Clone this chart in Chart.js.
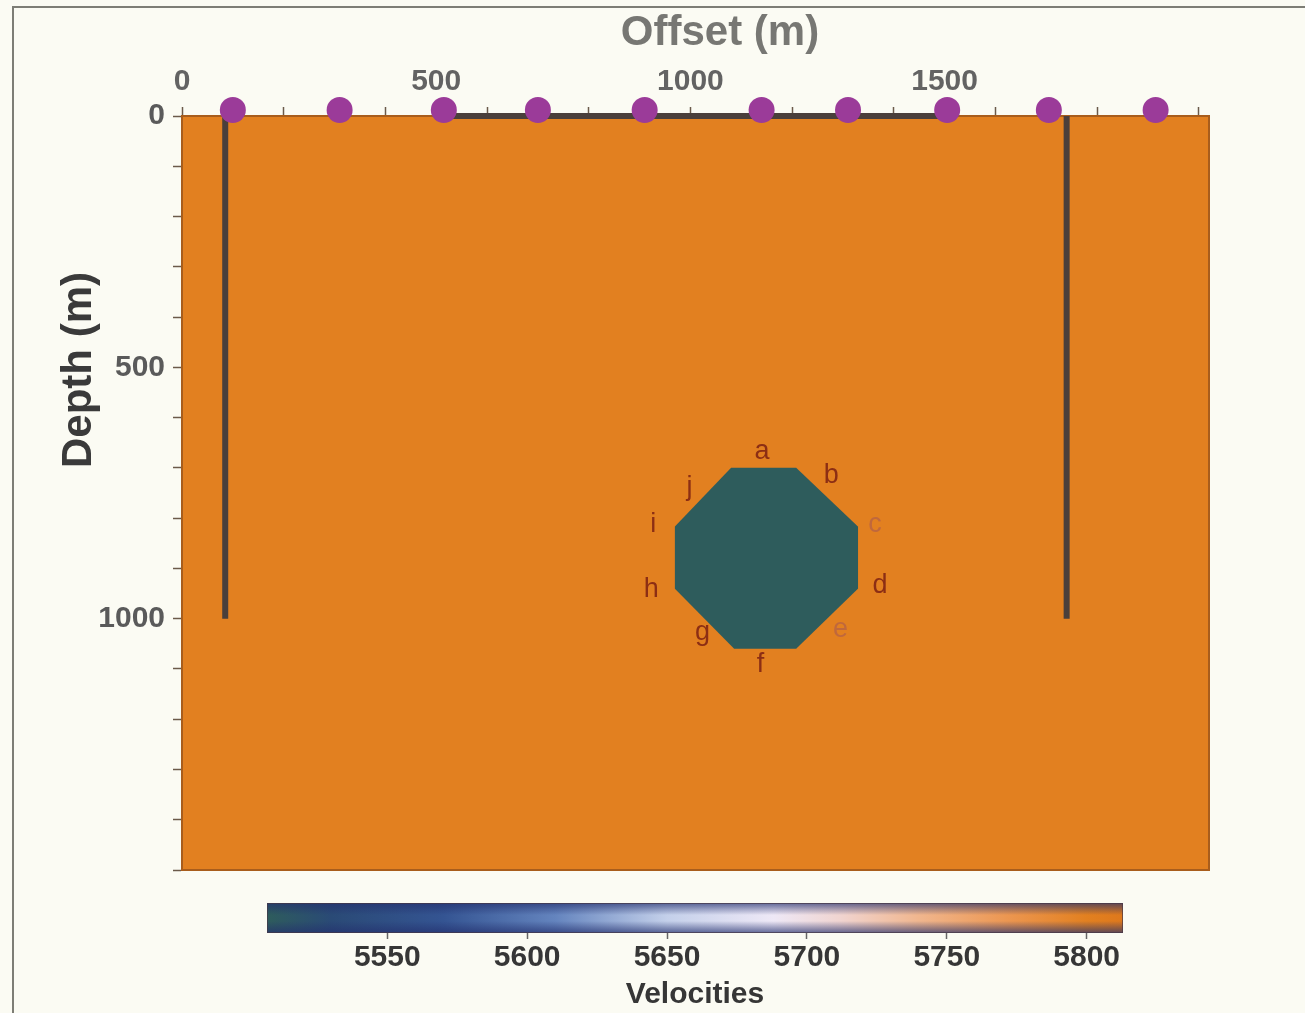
<!DOCTYPE html>
<html>
<head>
<meta charset="utf-8">
<script src="https://cdn.jsdelivr.net/npm/chart.js@4.4.1/dist/chart.umd.min.js"></script>
<style>
  html, body { margin: 0; padding: 0; background: #fbfbf3; }
  body { width: 1305px; height: 1013px; position: relative; overflow: hidden; }
  #frame { position: absolute; left: 12px; top: 6px; width: 1400px; height: 1100px;
           border-left: 2px solid #7d7d75; border-top: 2px solid #7d7d75; }
  #model { position: absolute; left: 0; top: 0; }
  #cbar { position: absolute; left: 0; top: 890px; }
</style>
</head>
<body>
<div id="frame"></div>
<canvas id="model" width="1305" height="890"></canvas>
<canvas id="cbar" width="1305" height="123"></canvas>
<script>
// ---- model extent (m) ----
const offsetRange = [0, 2020];
const depthRange = [0, 1500];
const offsetTicks = [0, 200, 400, 500, 600, 800, 1000, 1200, 1400, 1500, 1600, 1800, 2000];
const offsetLabels = [0, 500, 1000, 1500];
const depthLabels = [0, 500, 1000];

// ---- velocities (m/s) ----
const backgroundVelocity = 5800;
const anomalyVelocity = 5507;
const velocityRange = [5507, 5813];
const velocityTicks = [5550, 5600, 5650, 5700, 5750, 5800];

// ---- octagonal anomaly: upper and lower outline (offset, depth) ----
const anomalyTopX = [969, 1080, 1208, 1330];
const anomalyTopZ = [817, 700, 700, 817];
const anomalyBottomX = [969, 1086, 1208, 1330];
const anomalyBottomZ = [940, 1060, 1060, 940];

// ---- corner labels around the anomaly ----
const cornerNames = ['a', 'b', 'c', 'd', 'e', 'f', 'g', 'h', 'i', 'j'];
const cornerX = [1141, 1277, 1363, 1373, 1295, 1138, 1024, 923, 927, 998];
const cornerZ = [668, 716, 813, 934, 1022, 1092, 1028, 943, 813, 740];

// ---- sources at the surface ----
const sourceX = [100, 310, 515, 700, 910, 1140, 1310, 1505, 1705, 1915];
const sourceZ = [-12, -12, -12, -12, -12, -12, -12, -12, -12, -12];

// ---- wells and surface line ----
const wellX = [85, 1740];
const wellTop = 0;
const wellBottom = 1000;
const surfaceLineX = [515, 1510];
const surfaceLineZ = 0;

// colour scale (velocity -> colour)
const cmapStops = [
  [5507, [46, 92, 92]],
  [5530, [42, 74, 118]],
  [5570, [52, 84, 146]],
  [5610, [100, 132, 190]],
  [5650, [196, 208, 234]],
  [5688, [238, 232, 246]],
  [5712, [240, 212, 208]],
  [5740, [240, 182, 142]],
  [5772, [236, 150, 80]],
  [5800, [226, 128, 32]],
  [5813, [222, 120, 28]]
];
function cmap(v) {
  if (v <= cmapStops[0][0]) return rgb(cmapStops[0][1]);
  for (let i = 1; i < cmapStops.length; i++) {
    const [v1, c1] = cmapStops[i];
    const [v0, c0] = cmapStops[i - 1];
    if (v <= v1) {
      const t = (v - v0) / (v1 - v0);
      return rgb(c0.map((c, k) => c + (c1[k] - c) * t));
    }
  }
  return rgb(cmapStops[cmapStops.length - 1][1]);
}
function rgb(c) { return 'rgb(' + c.map(Math.round).join(',') + ')'; }

const FONT = "'Liberation Sans', Arial, Helvetica, sans-serif";
const pts = (xs, zs) => xs.map((x, i) => ({ x: x, y: zs[i] }));

const lineBase = { type: 'line', pointRadius: 0, fill: false, clip: false, tension: 0 };

const datasets = [
  { ...lineBase, label: 'sources', showLine: false, data: pts(sourceX, sourceZ),
    pointRadius: 13, pointBackgroundColor: '#9b3b99', pointBorderWidth: 0, order: 1 },
  ...wellX.map(x => ({ ...lineBase, label: 'well', data: [{ x: x, y: wellTop }, { x: x, y: wellBottom }],
    borderColor: '#4a3f3b', borderWidth: 6, borderCapStyle: 'butt', order: 3 })),
  { ...lineBase, label: 'surface', data: surfaceLineX.map(x => ({ x: x, y: surfaceLineZ })),
    borderColor: '#4a3f3b', borderWidth: 6, order: 3 },
  { ...lineBase, label: 'anomaly', data: pts(anomalyTopX, anomalyTopZ), fill: '+1',
    backgroundColor: cmap(anomalyVelocity), borderWidth: 0, borderColor: 'transparent', order: 6 },
  { ...lineBase, label: 'anomaly base', data: pts(anomalyBottomX, anomalyBottomZ),
    borderWidth: 0, borderColor: 'transparent', order: 7 },
  { ...lineBase, label: 'frame',
    data: [{ x: offsetRange[0], y: depthRange[0] }, { x: offsetRange[1], y: depthRange[0] },
           { x: offsetRange[1], y: depthRange[1] }, { x: offsetRange[0], y: depthRange[1] },
           { x: offsetRange[0], y: depthRange[0] }],
    borderColor: '#a85d1c', borderWidth: 2, order: 9 },
  { ...lineBase, label: 'background', clip: 0,
    data: [{ x: offsetRange[0], y: depthRange[1] }, { x: offsetRange[1], y: depthRange[1] }],
    fill: { value: depthRange[0] }, backgroundColor: cmap(backgroundVelocity),
    borderWidth: 0, borderColor: 'transparent', order: 10 }
];

// corner letters and axis titles
const annotations = {
  id: 'annotations',
  afterDatasetsDraw(chart) {
    const { ctx, scales: { x, y } } = chart;
    ctx.save();
    ctx.font = '27px ' + FONT;
    ctx.textAlign = 'center';
    ctx.textBaseline = 'middle';
    cornerNames.forEach((n, i) => {
      ctx.fillStyle = (n === 'c' || n === 'e') ? '#c0683c' : '#8c2e14';
      ctx.fillText(n, x.getPixelForValue(cornerX[i]), y.getPixelForValue(cornerZ[i]));
    });
    ctx.restore();
  },
  afterDraw(chart) {
    const { ctx } = chart;
    ctx.save();
    ctx.textAlign = 'center';
    ctx.textBaseline = 'middle';
    ctx.font = 'bold 42px ' + FONT;
    ctx.fillStyle = '#777773';
    ctx.fillText('Offset (m)', 720, 33);
    ctx.translate(79, 370);
    ctx.rotate(-Math.PI / 2);
    ctx.fillStyle = '#3a3a3a';
    ctx.fillText('Depth (m)', 0, 0);
    ctx.restore();
  }
};

new Chart(document.getElementById('model'), {
  type: 'line',
  data: { datasets: datasets },
  options: {
    responsive: false,
    animation: false,
    events: [],
    layout: { padding: { left: 50, top: 0, right: 96, bottom: 20 } },
    plugins: { legend: { display: false }, tooltip: { enabled: false } },
    scales: {
      x: {
        type: 'linear', position: 'top', min: offsetRange[0], max: offsetRange[1],
        afterBuildTicks: s => { s.ticks = offsetTicks.map(v => ({ value: v })); },
        afterFit: s => { s.height = 116; s.paddingLeft = 0; s.paddingRight = 0; },
        ticks: {
          autoSkip: false, maxRotation: 0, padding: 7, color: '#636363',
          font: { family: FONT, size: 30, weight: 'bold' },
          callback: v => offsetLabels.includes(v) ? String(v) : ''
        },
        grid: { drawOnChartArea: false, tickLength: 9, tickColor: '#6b5a4a', tickWidth: 1.5 },
        border: { color: '#a85d1c', width: 2 }
      },
      y: {
        type: 'linear', reverse: true, min: depthRange[0], max: depthRange[1],
        afterFit: s => { s.width = 132; s.paddingTop = 0; s.paddingBottom = 0; },
        ticks: {
          stepSize: 100, autoSkip: false, padding: 8, color: '#5a5a5a',
          font: { family: FONT, size: 30, weight: 'bold' },
          callback: v => depthLabels.includes(v) ? String(v) : ''
        },
        grid: { drawOnChartArea: false, tickLength: 9, tickColor: '#6b5a4a', tickWidth: 1.5 },
        border: { color: '#a85d1c', width: 2 }
      }
    }
  },
  plugins: [annotations]
});

// colour bar
const colorBar = {
  id: 'colorBar',
  beforeDatasetsDraw(chart) {
    const { ctx, chartArea: a, scales: { x } } = chart;
    const g = ctx.createLinearGradient(a.left, 0, a.right, 0);
    const span = a.right - a.left;
    cmapStops.forEach(([v]) => {
      const p = (x.getPixelForValue(v) - a.left) / span;
      g.addColorStop(Math.min(1, Math.max(0, p)), cmap(v));
    });
    ctx.save();
    ctx.fillStyle = g;
    ctx.fillRect(a.left, a.top, span, a.bottom - a.top);
    const shade = ctx.createLinearGradient(0, a.top, 0, a.bottom);
    shade.addColorStop(0, 'rgba(36,48,110,0.7)');
    shade.addColorStop(0.4, 'rgba(36,48,110,0)');
    shade.addColorStop(0.6, 'rgba(36,48,110,0)');
    shade.addColorStop(1, 'rgba(36,48,110,0.7)');
    ctx.fillStyle = shade;
    ctx.fillRect(a.left, a.top, span, a.bottom - a.top);
    ctx.strokeStyle = 'rgba(70,55,70,0.7)';
    ctx.lineWidth = 1;
    ctx.strokeRect(a.left + 0.5, a.top + 0.5, span - 1, a.bottom - a.top - 1);
    ctx.restore();
  }
};

new Chart(document.getElementById('cbar'), {
  type: 'scatter',
  data: { datasets: [] },
  options: {
    responsive: false,
    animation: false,
    events: [],
    layout: { padding: { left: 267, right: 182, top: 13, bottom: 0 } },
    plugins: { legend: { display: false }, tooltip: { enabled: false } },
    scales: {
      x: {
        type: 'linear', position: 'bottom', min: velocityRange[0], max: velocityRange[1],
        afterBuildTicks: s => { s.ticks = velocityTicks.map(v => ({ value: v })); },
        afterFit: s => { s.height = 80; },
        ticks: {
          autoSkip: false, maxRotation: 0, padding: 1, color: '#363636',
          font: { family: FONT, size: 30, weight: 'bold' },
          callback: v => String(v)
        },
        grid: { drawOnChartArea: false, tickLength: 6, tickColor: '#666', tickWidth: 1.5 },
        border: { display: false },
        title: {
          display: true, text: 'Velocities', color: '#363636',
          font: { family: FONT, size: 30, weight: 'bold' }, padding: { top: 0, bottom: 0 }
        }
      },
      y: { display: false }
    }
  },
  plugins: [colorBar]
});
</script>
</body>
</html>
